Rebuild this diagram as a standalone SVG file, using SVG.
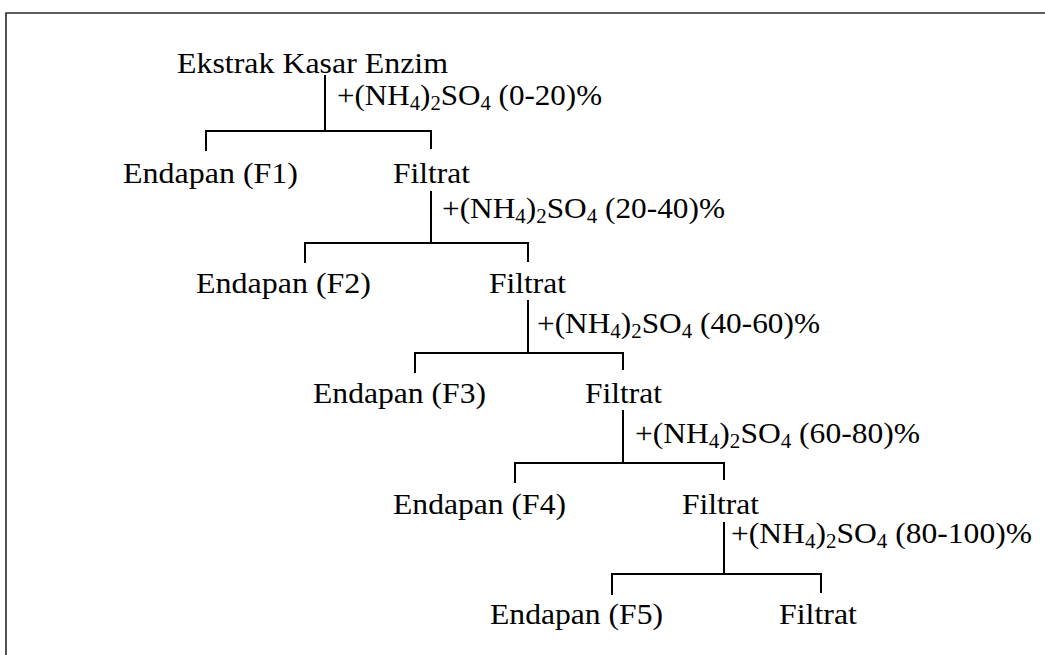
<svg xmlns="http://www.w3.org/2000/svg" width="1045" height="655" viewBox="0 0 1045 655">
  <style>
    .t { font-family: "Liberation Serif", "Times New Roman", serif; font-size: 30px; fill: #000; }
    .lbl { font-family: "Liberation Serif", "Times New Roman", serif; font-size: 30px; fill: #000; }
    .sub { font-size: 20px; }
    .ln { fill: none; stroke: #000; stroke-width: 2; }
    .frame { fill: none; stroke: #2a2a2a; stroke-width: 1.6; }
  </style>
  <rect width="1045" height="655" fill="#fff"/>
  <path class="frame" d="M6,655 V13 H1045"/>

  <g id="connectors">
    <path class="ln" d="M325,75 V131 M206,151 V131 H431 V149"/>
    <path class="ln" d="M431,191 V243 M305,263 V243 H528 V262"/>
    <path class="ln" d="M528,300 V353 M415,373 V353 H623 V370"/>
    <path class="ln" d="M623,410 V463 M515,483 V463 H724 V480"/>
    <path class="ln" d="M724,522 V574 M612,595 V574 H821 V593"/>
  </g>

  <g id="labels">
    <text class="lbl" x="337" y="105" textLength="265" lengthAdjust="spacingAndGlyphs">+(NH<tspan class="sub" dy="5">4</tspan><tspan dy="-5">)</tspan><tspan class="sub" dy="5">2</tspan><tspan dy="-5">SO</tspan><tspan class="sub" dy="5">4</tspan><tspan dy="-5"> (0-20)%</tspan></text>
    <text class="lbl" x="442" y="218" textLength="283" lengthAdjust="spacingAndGlyphs">+(NH<tspan class="sub" dy="5">4</tspan><tspan dy="-5">)</tspan><tspan class="sub" dy="5">2</tspan><tspan dy="-5">SO</tspan><tspan class="sub" dy="5">4</tspan><tspan dy="-5"> (20-40)%</tspan></text>
    <text class="lbl" x="537" y="333" textLength="283" lengthAdjust="spacingAndGlyphs">+(NH<tspan class="sub" dy="5">4</tspan><tspan dy="-5">)</tspan><tspan class="sub" dy="5">2</tspan><tspan dy="-5">SO</tspan><tspan class="sub" dy="5">4</tspan><tspan dy="-5"> (40-60)%</tspan></text>
    <text class="lbl" x="635" y="443" textLength="285" lengthAdjust="spacingAndGlyphs">+(NH<tspan class="sub" dy="5">4</tspan><tspan dy="-5">)</tspan><tspan class="sub" dy="5">2</tspan><tspan dy="-5">SO</tspan><tspan class="sub" dy="5">4</tspan><tspan dy="-5"> (60-80)%</tspan></text>
    <text class="lbl" x="731" y="543" textLength="301" lengthAdjust="spacingAndGlyphs">+(NH<tspan class="sub" dy="5">4</tspan><tspan dy="-5">)</tspan><tspan class="sub" dy="5">2</tspan><tspan dy="-5">SO</tspan><tspan class="sub" dy="5">4</tspan><tspan dy="-5"> (80-100)%</tspan></text>
  </g>

  <g id="n-ekstrak"><text class="t" x="177" y="73" textLength="271" lengthAdjust="spacingAndGlyphs">Ekstrak Kasar Enzim</text></g>
  <g id="n-f1"><text class="t" x="123" y="183" textLength="175" lengthAdjust="spacingAndGlyphs">Endapan (F1)</text></g>
  <g id="n-filtrat1"><text class="t" x="393" y="183" textLength="77" lengthAdjust="spacingAndGlyphs">Filtrat</text></g>
  <g id="n-f2"><text class="t" x="196" y="293" textLength="175" lengthAdjust="spacingAndGlyphs">Endapan (F2)</text></g>
  <g id="n-filtrat2"><text class="t" x="489" y="293" textLength="77" lengthAdjust="spacingAndGlyphs">Filtrat</text></g>
  <g id="n-f3"><text class="t" x="313" y="403" textLength="173" lengthAdjust="spacingAndGlyphs">Endapan (F3)</text></g>
  <g id="n-filtrat3"><text class="t" x="585" y="403" textLength="77" lengthAdjust="spacingAndGlyphs">Filtrat</text></g>
  <g id="n-f4"><text class="t" x="393" y="514" textLength="173" lengthAdjust="spacingAndGlyphs">Endapan (F4)</text></g>
  <g id="n-filtrat4"><text class="t" x="682" y="514" textLength="77" lengthAdjust="spacingAndGlyphs">Filtrat</text></g>
  <g id="n-f5"><text class="t" x="490" y="624" textLength="173" lengthAdjust="spacingAndGlyphs">Endapan (F5)</text></g>
  <g id="n-filtrat5"><text class="t" x="779" y="624" textLength="78" lengthAdjust="spacingAndGlyphs">Filtrat</text></g>
</svg>
